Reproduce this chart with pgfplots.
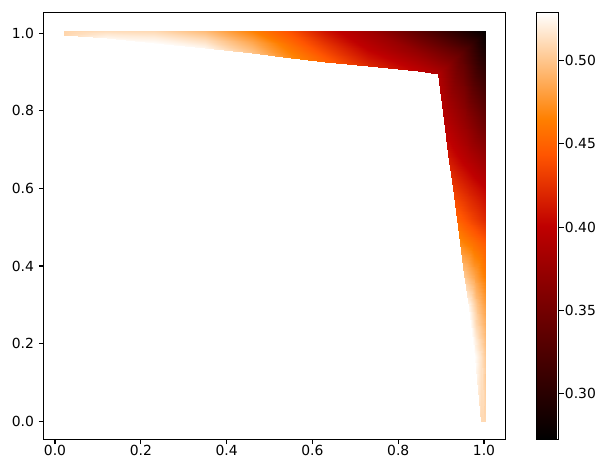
\documentclass[border=0pt]{standalone}
\usepackage{fontspec}
\setmainfont{DejaVu Sans}
\usepackage{pgfplots}
\pgfplotsset{compat=1.18}

% gist_heat
\pgfplotsset{colormap={gistheat}{rgb(0)=(0,0,0) rgb(6)=(0.75,0,0) rgb(8)=(1,0.3333,0) rgb(9)=(1,0.5,0) rgb(12)=(1,1,1)}}

\begin{document}
\begin{tikzpicture}
\useasboundingbox (-31.5pt,-14.2pt) rectangle ++(429.1pt,330.5pt);
\begin{axis}[
    at={(0,0)}, anchor=south west,
    scale only axis,
    width=332.6pt, height=307.4pt,
    xmin=-0.0263, xmax=1.0506,
    ymin=-0.047, ymax=1.054,
    xtick={0,0.2,0.4,0.6,0.8,1.0},
    ytick={0,0.2,0.4,0.6,0.8,1.0},
    xtick pos=lower, ytick pos=left,
    tick align=outside,
    major tick length=3.5pt,
    axis line style={line width=0.8pt},
    tick style={line width=0.8pt, black},
    ticklabel style={font=\fontsize{10}{12}\selectfont},
    xticklabel style={yshift=2.5pt},
    /pgf/number format/assume math mode=true,
    xticklabel={\pgfmathprintnumber[fixed,precision=1,zerofill]{\tick}},
    yticklabel={\pgfmathprintnumber[fixed,precision=1,zerofill]{\tick}},
    colormap name=gistheat,
    point meta min=0.2725, point meta max=0.529,
    colorbar,
    colorbar style={
        at={(parent axis.north east)}, anchor=north west,
        xshift=13.8pt,
        scale only axis,
        width=15.8pt, height=307.4pt,
        ytick={0.30,0.35,0.40,0.45,0.50},
        ytick pos=right,
        tick align=outside,
        major tick length=3.5pt,
        axis line style={line width=0.8pt},
        tick style={line width=0.8pt, black},
        ticklabel style={font=\fontsize{10}{12}\selectfont},
        yticklabel style={xshift=-2.5pt},
        /pgf/number format/assume math mode=true,
        yticklabel={\pgfmathprintnumber[fixed,precision=2,zerofill]{\tick}},
    },
]
\addplot[surf, shader=interp, mesh/cols=3, point meta=explicit]
    table[x=x, y=y, meta=c] {
x y c
0.020 0.995 0.508
0.020 1.000 0.508
0.020 1.006 0.508
0.120 0.988 0.525
0.120 0.997 0.518
0.120 1.006 0.512
0.230 0.975 0.528
0.230 0.9905 0.520
0.230 1.006 0.510
0.350 0.961 0.525
0.350 0.9835 0.512
0.350 1.006 0.495
0.460 0.948 0.500
0.460 0.977 0.485
0.460 1.006 0.466
0.550 0.937 0.470
0.550 0.9715 0.455
0.550 1.006 0.440
0.630 0.927 0.450
0.630 0.9665 0.430
0.630 1.006 0.410
0.730 0.915 0.420
0.730 0.9605 0.400
0.730 1.006 0.380
0.845 0.902 0.400
0.845 0.954 0.370
0.845 1.006 0.335
0.892 0.896 0.390
0.948 0.951 0.335
1.004 1.006 0.2725
0.9065 0.776 0.395
0.9553 0.776 0.370
1.004 0.776 0.340
0.9168 0.690 0.410
0.9604 0.690 0.390
1.004 0.690 0.370
0.9277 0.600 0.430
0.9659 0.600 0.415
1.004 0.600 0.400
0.9373 0.520 0.450
0.9707 0.520 0.435
1.004 0.520 0.420
0.9446 0.460 0.470
0.9743 0.460 0.457
1.004 0.460 0.445
0.9542 0.380 0.500
0.9791 0.380 0.480
1.004 0.380 0.460
0.9644 0.295 0.525
0.9842 0.295 0.500
1.004 0.295 0.480
0.9801 0.165 0.528
0.9921 0.165 0.515
1.004 0.165 0.500
0.994 -0.002 0.510
0.999 -0.002 0.510
1.004 -0.002 0.510
};
\end{axis}
\end{tikzpicture}
\end{document}
